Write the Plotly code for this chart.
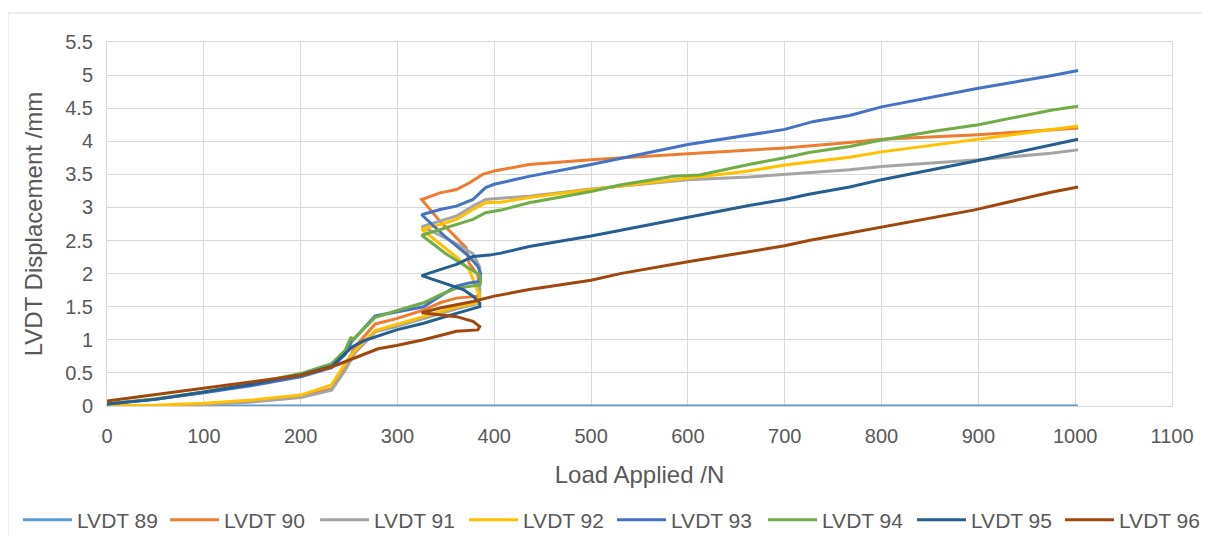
import plotly.graph_objects as go

# ---- data (Load Applied /N, LVDT Displacement /mm) ----
load_89 = [0, 250, 500, 750, 1003]
disp_89 = [0, 0, 0, 0, 0]

load_90 = [0, 50, 100, 150, 200, 232, 246, 256, 277, 299, 327, 344, 361, 383, 385, 383, 374, 371, 361, 344, 325,
           344, 361, 374, 388, 400, 436, 500, 600, 663, 700, 767, 800, 900, 975, 1003]
disp_90 = [0, 0.0, 0.03, 0.07, 0.14, 0.26, 0.59, 0.89, 1.24, 1.32, 1.45, 1.56, 1.63, 1.66, 1.76, 1.98, 2.16, 2.39, 2.54, 2.79, 3.12,
           3.22, 3.27, 3.37, 3.5, 3.55, 3.65, 3.72, 3.81, 3.87, 3.9, 3.98, 4.03, 4.1, 4.17, 4.2]

load_91 = [0, 50, 100, 150, 200, 232, 246, 256, 277, 299, 327, 361, 383, 385, 385, 378, 361, 344, 325,
           344, 361, 378, 391, 407, 436, 500, 600, 663, 700, 767, 800, 900, 975, 1003]
disp_91 = [0, 0, 0.02, 0.06, 0.13, 0.24, 0.54, 0.8, 1.12, 1.2, 1.32, 1.47, 1.55, 1.66, 2.1, 2.3, 2.45, 2.58, 2.71,
           2.79, 2.87, 3.02, 3.12, 3.14, 3.17, 3.28, 3.42, 3.46, 3.5, 3.57, 3.62, 3.72, 3.82, 3.87]

load_92 = [0, 50, 100, 150, 200, 232, 246, 256, 277, 299, 327, 361, 383, 385, 378, 374, 361, 344, 325,
           344, 361, 378, 391, 407, 436, 500, 600, 663, 700, 767, 800, 900, 975, 1003]
disp_92 = [0, 0.01, 0.04, 0.09, 0.165, 0.32, 0.64, 0.84, 1.14, 1.23, 1.35, 1.5, 1.56, 1.66, 1.9, 2.06, 2.25, 2.45, 2.67,
           2.74, 2.82, 2.97, 3.07, 3.08, 3.15, 3.27, 3.44, 3.55, 3.64, 3.76, 3.84, 4.03, 4.17, 4.23]

load_93 = [0, 50, 100, 150, 200, 232, 246, 253, 277, 299, 327, 344, 361, 374, 385, 386, 383, 374, 350, 325,
           344, 361, 378, 391, 400, 436, 500, 600, 663, 700, 730, 767, 800, 900, 975, 1003]
disp_93 = [0.03, 0.1, 0.2, 0.31, 0.44, 0.58, 0.78, 0.98, 1.36, 1.42, 1.5, 1.66, 1.81, 1.86, 1.88, 2.0, 2.11, 2.26, 2.55, 2.89,
           2.97, 3.02, 3.12, 3.3, 3.35, 3.47, 3.65, 3.95, 4.1, 4.18, 4.3, 4.39, 4.52, 4.8, 4.99, 5.07]

load_94 = [0, 50, 100, 150, 200, 232, 246, 252, 254, 277, 299, 327, 344, 361, 385, 386, 385, 350, 325,
           344, 361, 378, 391, 407, 436, 500, 530, 585, 612, 663, 700, 725, 767, 800, 854, 900, 975, 1003]
disp_94 = [0.03, 0.11, 0.21, 0.34, 0.49, 0.64, 0.84, 1.04, 1.0, 1.34, 1.44, 1.56, 1.68, 1.78, 1.83, 1.88, 1.98, 2.3, 2.58,
           2.67, 2.74, 2.82, 2.92, 2.96, 3.07, 3.24, 3.34, 3.47, 3.49, 3.65, 3.75, 3.83, 3.92, 4.02, 4.15, 4.25, 4.47, 4.53]

load_95 = [0, 50, 100, 150, 200, 232, 253, 266, 299, 327, 361, 385, 385, 378, 368, 325,
           344, 361, 378, 395, 407, 436, 500, 600, 663, 700, 725, 767, 800, 900, 975, 1003]
disp_95 = [0.03, 0.1, 0.21, 0.33, 0.47, 0.6, 0.89, 0.99, 1.15, 1.25, 1.4, 1.5, 1.56, 1.66, 1.76, 1.97,
           2.06, 2.14, 2.26, 2.28, 2.31, 2.41, 2.57, 2.85, 3.03, 3.12, 3.2, 3.31, 3.42, 3.71, 3.94, 4.03]

load_96 = [0, 50, 100, 150, 200, 232, 253, 266, 280, 299, 327, 361, 383, 385, 378, 361, 325,
           344, 361, 378, 400, 436, 500, 530, 600, 663, 700, 725, 800, 895, 975, 1003]
disp_96 = [0.075, 0.17, 0.265, 0.36, 0.465, 0.59, 0.715, 0.79, 0.865, 0.915, 1.0, 1.13, 1.15, 1.2, 1.28, 1.35, 1.41,
           1.48, 1.53, 1.58, 1.66, 1.76, 1.9, 2.0, 2.18, 2.33, 2.42, 2.5, 2.7, 2.96, 3.23, 3.31]

names = ["LVDT 89", "LVDT 90", "LVDT 91", "LVDT 92", "LVDT 93", "LVDT 94", "LVDT 95", "LVDT 96"]
loads = [load_89, load_90, load_91, load_92, load_93, load_94, load_95, load_96]
disps = [disp_89, disp_90, disp_91, disp_92, disp_93, disp_94, disp_95, disp_96]
colors = ["#5B9BD5", "#ED7D31", "#A5A5A5", "#FFC000", "#4472C4", "#70AD47", "#255E91", "#9E480E"]

x_ticks = list(range(0, 1101, 100))
y_ticks = [0, 0.5, 1, 1.5, 2, 2.5, 3, 3.5, 4, 4.5, 5, 5.5]

FONT = "Liberation Sans"
TXT = "#595959"
GRID = "#D9D9D9"
W, H = 1202, 528

# left edge (px) of each legend entry's line sample in the page
legend_px = [23, 170, 320, 469, 617, 768, 917, 1065]

fig = go.Figure()
legends = {}
for i, (n, xs, ys, c) in enumerate(zip(names, loads, disps, colors)):
    key = "legend" if i == 0 else "legend%d" % (i + 1)
    fig.add_trace(go.Scatter(x=xs, y=ys, mode="lines", name=n, legend=key,
                             line=dict(color=c, width=3)))
    legends[key] = dict(orientation="h", x=(legend_px[i] - 13) / W, xanchor="left", xref="container",
                        y=(H - 512) / H, yanchor="middle", yref="container",
                        font=dict(family=FONT, size=21, color=TXT),
                        bgcolor="rgba(0,0,0,0)", itemwidth=49)

fig.update_layout(
    width=W, height=H,
    margin=dict(l=99, r=38, t=34, b=130, autoexpand=False),
    paper_bgcolor="white", plot_bgcolor="white",
    font=dict(family=FONT, color=TXT, size=20),
    showlegend=True,
    xaxis=dict(range=[0, 1100], tickvals=x_ticks, ticktext=[str(v) for v in x_ticks],
               showgrid=True, gridcolor=GRID, gridwidth=1, tickangle=0,
               zeroline=False, showline=True, linecolor=GRID, mirror=True,
               ticks="", ticklabelstandoff=12, tickfont=dict(size=20, color=TXT, family=FONT),
               title=dict(text="Load Applied /N", font=dict(size=24, color=TXT, family=FONT), standoff=20)),
    yaxis=dict(range=[0, 5.5], tickvals=y_ticks, ticktext=[("%g" % v) for v in y_ticks],
               showgrid=True, gridcolor=GRID, gridwidth=1,
               zeroline=False, showline=True, linecolor=GRID, mirror=True,
               ticks="", ticklabelstandoff=9, tickfont=dict(size=20, color=TXT, family=FONT),
               title=dict(text="LVDT Displacement /mm", font=dict(size=24, color=TXT, family=FONT), standoff=15)),
    **legends,
)

# outer chart-area border
fig.add_shape(type="rect", xref="paper", yref="paper",
              x0=-0.093, x1=1.031, y0=-0.36, y1=1.0797,
              line=dict(color=GRID, width=1), fillcolor="rgba(0,0,0,0)", layer="below")

fig.write_html("out.html")
